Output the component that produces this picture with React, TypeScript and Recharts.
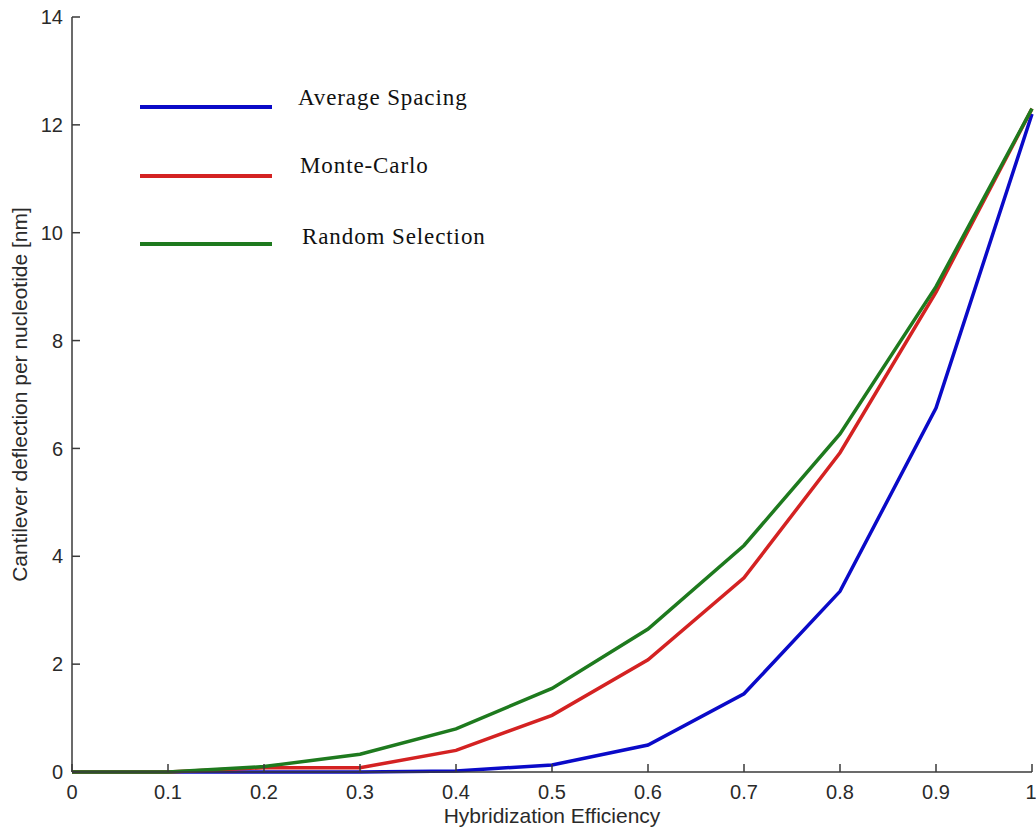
import React from 'react';
import { LineChart, Line, XAxis, YAxis, Legend } from 'recharts';

const efficiency = [0, 0.1, 0.2, 0.3, 0.4, 0.5, 0.6, 0.7, 0.8, 0.9, 1.0];
const averageSpacing = [0, 0, 0, 0, 0.02, 0.13, 0.5, 1.45, 3.35, 6.75, 12.2];
const monteCarlo = [0, 0, 0.08, 0.08, 0.4, 1.05, 2.08, 3.6, 5.92, 8.9, 12.3];
const randomSelection = [0, 0, 0.1, 0.33, 0.8, 1.55, 2.65, 4.2, 6.27, 9.0, 12.3];

const xTicks = [0, 0.1, 0.2, 0.3, 0.4, 0.5, 0.6, 0.7, 0.8, 0.9, 1];
const yTicks = [0, 2, 4, 6, 8, 10, 12, 14];

const seriesNames = ['Average Spacing', 'Monte-Carlo', 'Random Selection'];
const seriesColors = ['#0a0ac8', '#d42222', '#1e7a1e'];

const data = efficiency.map((x, i) => ({
  x,
  avg: averageSpacing[i],
  mc: monteCarlo[i],
  rs: randomSelection[i],
}));

const tickStyle = { fontFamily: 'Liberation Sans, Arial, sans-serif', fontSize: 20, fill: '#2a2a2a' };
const axisColor = '#3a3a3a';

const LegendContent = () => (
  <div style={{ position: 'relative', width: 400, height: 180 }}>
    {seriesNames.map((name, i) => (
      <div key={name}>
        <div
          style={{
            position: 'absolute',
            left: 0,
            top: [25, 94, 162][i],
            width: 132,
            height: 3.5,
            background: seriesColors[i],
          }}
        />
        <div
          style={{
            position: 'absolute',
            left: [158, 160, 162][i],
            top: [5, 73, 144][i],
            fontFamily: 'Liberation Serif, Times New Roman, serif',
            fontSize: 23,
            letterSpacing: 0.9,
            color: '#111',
            whiteSpace: 'nowrap',
          }}
        >
          {name}
        </div>
      </div>
    ))}
  </div>
);

export default function App() {
  return (
    <div style={{ width: 1036, height: 830, overflow: 'hidden', background: '#fff' }}>
      <style>{'body{margin:0;overflow:hidden;}'}</style>
      <LineChart
        width={1036}
        height={830}
        data={data}
        margin={{ top: 17, right: 4, left: 0, bottom: 0 }}
      >
        <XAxis
          dataKey="x"
          type="number"
          domain={[0, 1]}
          ticks={xTicks}
          tickFormatter={(v: number) => String(v)}
          height={58}
          tickSize={-8}
          tickMargin={21}
          tick={tickStyle}
          stroke={axisColor}
          strokeWidth={1.5}
          label={{
            value: 'Hybridization Efficiency',
            position: 'insideBottom',
            offset: 7,
            style: { fontFamily: 'Liberation Sans, Arial, sans-serif', fontSize: 21, fill: '#2a2a2a' },
          }}
        />
        <XAxis
          xAxisId="top"
          orientation="top"
          type="number"
          domain={[0, 1]}
          ticks={xTicks}
          height={0}
          tickSize={-8}
          tick={false}
          stroke={axisColor}
          strokeWidth={1.5}
        />
        <YAxis
          type="number"
          domain={[0, 14]}
          ticks={yTicks}
          width={72}
          tickSize={-8}
          tickMargin={17}
          tick={tickStyle}
          stroke={axisColor}
          strokeWidth={1.5}
          label={{
            value: 'Cantilever deflection per nucleotide [nm]',
            angle: -90,
            position: 'insideLeft',
            offset: 20,
            style: { textAnchor: 'middle', fontFamily: 'Liberation Sans, Arial, sans-serif', fontSize: 21, fill: '#2a2a2a' },
          }}
        />
        <YAxis
          yAxisId="right"
          orientation="right"
          type="number"
          domain={[0, 14]}
          ticks={yTicks}
          width={0}
          tickSize={-8}
          tick={false}
          stroke={axisColor}
          strokeWidth={1.5}
        />
        <Legend
          layout="vertical"
          align="center"
          verticalAlign="middle"
          content={<LegendContent />}
          wrapperStyle={{ position: 'absolute', left: 140, top: 80, width: 400, height: 180 }}
        />
        <Line dataKey="avg" name={seriesNames[0]} stroke={seriesColors[0]} strokeWidth={3.5} dot={false} isAnimationActive={false} />
        <Line dataKey="mc" name={seriesNames[1]} stroke={seriesColors[1]} strokeWidth={3.5} dot={false} isAnimationActive={false} />
        <Line dataKey="rs" name={seriesNames[2]} stroke={seriesColors[2]} strokeWidth={3.5} dot={false} isAnimationActive={false} />
      </LineChart>
    </div>
  );
}
